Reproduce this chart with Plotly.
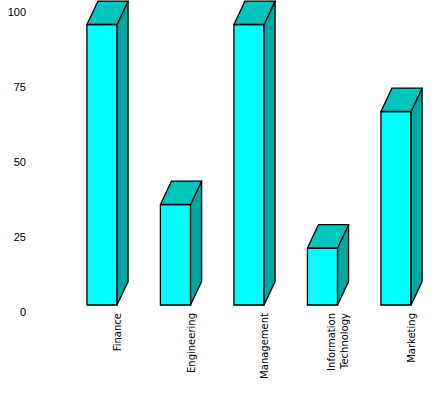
import plotly.graph_objects as go

categories = ["Finance", "Engineering", "Management", "Information<br>Technology", "Marketing"]
values = [93.5, 33.5, 93.5, 19, 64.5]
y_ticks = [0, 25, 50, 75, 100]

FRONT = "#00FFFF"
TOP = "#00C4BE"
SIDE = "#00A6A0"
EDGE = "#000000"

W = 0.41      # bar width (x units)
DX = 0.15     # depth offset in x units
DY = 7.8      # depth offset in y units

xs = list(range(len(categories)))
fig = go.Figure()

# side faces
for i, v in zip(xs, values):
    x1 = i + W / 2
    fig.add_trace(go.Scatter(
        x=[x1, x1 + DX, x1 + DX, x1, x1],
        y=[0, DY, v + DY, v, 0],
        fill="toself", fillcolor=SIDE, mode="lines",
        line=dict(color=EDGE, width=1.3), hoverinfo="skip", showlegend=False))
# top faces
for i, v in zip(xs, values):
    x0, x1 = i - W / 2, i + W / 2
    fig.add_trace(go.Scatter(
        x=[x0, x1, x1 + DX, x0 + DX, x0],
        y=[v, v, v + DY, v + DY, v],
        fill="toself", fillcolor=TOP, mode="lines",
        line=dict(color=EDGE, width=1.3), hoverinfo="skip", showlegend=False))
# front faces
fig.add_trace(go.Bar(
    x=xs, y=values, width=W, marker=dict(color=FRONT, line=dict(color=EDGE, width=1.3)),
    showlegend=False))

L, R = 40, 434
px_per_unit = 73.5
x0_px = 102
fig.update_layout(
    width=444, height=396,
    margin=dict(l=L, r=444 - R, t=0, b=396 - 308),
    plot_bgcolor="white", paper_bgcolor="white",
    font=dict(family="Liberation Sans, Arial, sans-serif", size=11, color="#000"),
    xaxis=dict(
        range=[-(x0_px - L) / px_per_unit, (R - x0_px) / px_per_unit],
        tickmode="array", tickvals=xs, ticktext=categories,
        tickangle=-90, showgrid=False, zeroline=False, showline=False,
        ticks="", ticklabelshift=16, ticklabelstandoff=2, automargin=False,
        tickfont=dict(size=10, family="DejaVu Sans, Liberation Sans, sans-serif")),
    yaxis=dict(
        range=[-1, 305 / 3], tickmode="array", tickvals=y_ticks,
        showgrid=False, zeroline=False, showline=False, ticks="",
        ticklabelshift=7, ticklabelstandoff=13, automargin=False,
        tickfont=dict(size=11)),
)
fig.write_html("out.html", config={"displayModeBar": False},
               post_script="document.body.style.margin='0';document.body.style.overflow='hidden';")
